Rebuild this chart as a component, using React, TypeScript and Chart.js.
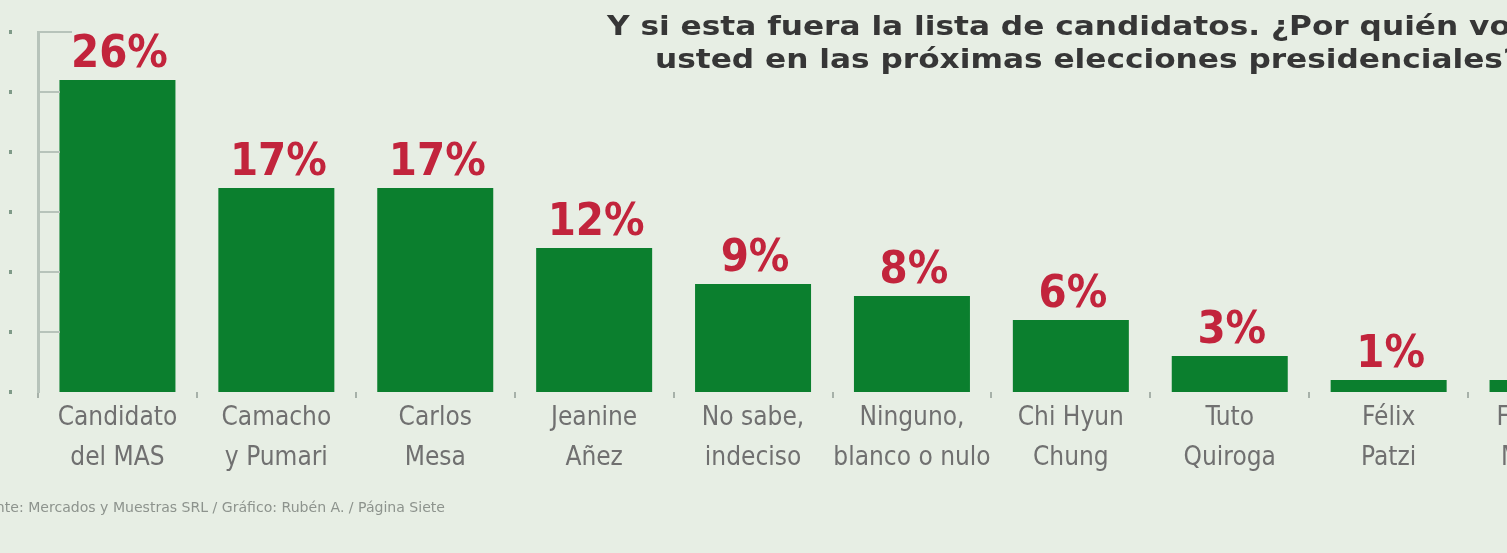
import React, { useEffect, useRef } from "react";
import { Chart, registerables } from "chart.js";

Chart.register(...registerables);

const categories: string[][] = [
  ["Candidato", "del MAS"],
  ["Camacho", "y Pumari"],
  ["Carlos", "Mesa"],
  ["Jeanine", "Añez"],
  ["No sabe,", "indeciso"],
  ["Ninguno,", "blanco o nulo"],
  ["Chi Hyun", "Chung"],
  ["Tuto", "Quiroga"],
  ["Félix", "Patzi"],
  ["Feliciano", "Mamani"],
];
const values: number[] = [26, 17, 17, 12, 9, 8, 6, 3, 1, 1];
const valueLabels: string[] = values.map((v) => `${v}%`);
const yTicks: number[] = [0, 5, 10, 15, 20, 25, 30];
const titleLines: string[] = [
  "Y si esta fuera la lista de candidatos. ¿Por quién votaría",
  "usted en las próximas elecciones presidenciales?",
];
const sourceText = "Fuente: Mercados y Muestras SRL / Gráfico: Rubén A. / Página Siete";

const BG = "#e7eee4";
const BAR = "#0b7f2e";
const RED = "#c2243c";

const decorPlugin = {
  id: "decor",
  beforeDraw(chart: any) {
    const { ctx, width, height } = chart;
    ctx.save();
    ctx.fillStyle = BG;
    ctx.fillRect(0, 0, width, height);
    ctx.restore();
  },
  afterDraw(chart: any) {
    const { ctx } = chart;
    const y = chart.scales.y;
    const left = chart.chartArea.left;
    ctx.save();
    yTicks.forEach((t) => {
      const py = y.getPixelForValue(t);
      if (t > 0) {
        ctx.strokeStyle = "#b7c3ba";
        ctx.lineWidth = 2;
        ctx.beginPath();
        ctx.moveTo(left, py);
        ctx.lineTo(left + (t === 30 ? 34 : 22), py);
        ctx.stroke();
      }
      ctx.fillStyle = "#7f9a88";
      ctx.fillRect(9, py - 2, 3, 4);
    });
    // value labels
    const meta = chart.getDatasetMeta(0);
    ctx.fillStyle = RED;
    ctx.font = "bold 45px 'DejaVu Sans Condensed', 'DejaVu Sans', sans-serif";
    ctx.textAlign = "center";
    ctx.textBaseline = "alphabetic";
    meta.data.forEach((bar: any, i: number) => {
      ctx.fillText(valueLabels[i], bar.x + 2, bar.y - 13);
    });
    // title (horizontally stretched heavy font)
    ctx.fillStyle = "#363636";
    ctx.font = "bold 26px 'DejaVu Sans', sans-serif";
    ctx.textAlign = "left";
    ctx.textBaseline = "middle";
    const sx = 1.2;
    ctx.save();
    ctx.scale(sx, 1);
    ctx.fillText(titleLines[0], 607 / sx, 28);
    ctx.fillText(titleLines[1], 655 / sx, 61);
    ctx.restore();
    // source
    ctx.fillStyle = "#8d938d";
    ctx.font = "14px 'DejaVu Sans', sans-serif";
    const vis = ctx.measureText("e: Mercados y Muestras SRL / Gráfico: Rubén A. / Página Siete").width;
    const fs = (14 * 435) / vis;
    ctx.font = `${fs.toFixed(2)}px 'DejaVu Sans', sans-serif`;
    ctx.textAlign = "right";
    ctx.fillText(sourceText, 445, 508);
    ctx.restore();
  },
};

export default function App() {
  const ref = useRef<HTMLCanvasElement | null>(null);
  useEffect(() => {
    if (!ref.current) return;
    const chart = new Chart(ref.current, {
      type: "bar",
      data: {
        labels: categories,
        datasets: [
          {
            data: values,
            backgroundColor: BAR,
            barPercentage: 0.73,
            categoryPercentage: 1,
          },
        ],
      },
      options: {
        animation: false,
        responsive: false,
        devicePixelRatio: 1,
        layout: { padding: { top: 32, left: 0, right: 0, bottom: 0 } },
        plugins: { legend: { display: false }, tooltip: { enabled: false } },
        scales: {
          x: {
            grid: {
              display: true,
              drawOnChartArea: false,
              drawTicks: true,
              tickLength: 6,
              offset: true,
              color: "#a7b1a9",
              lineWidth: 2,
            },
            border: { display: false },
            ticks: {
              color: "#707070",
              padding: 0,
              maxRotation: 0,
              autoSkip: false,
              font: {
                family: "'Liberation Sans Narrow', 'DejaVu Sans Condensed', Roboto, sans-serif",
                size: 26,
                lineHeight: 1.55,
              },
            },
            afterFit: (s: any) => {
              s.height = 161;
            },
          },
          y: {
            min: 0,
            max: 30,
            grid: { display: false },
            border: { display: true, color: "#b7c3ba", width: 3 },
            ticks: { display: false, stepSize: 5 },
            afterFit: (s: any) => {
              s.width = 38;
            },
          },
        },
      },
      plugins: [decorPlugin],
    });
    return () => chart.destroy();
  }, []);
  return (
    <div
      style={{
        position: "absolute",
        left: 0,
        top: 0,
        width: 1507,
        height: 553,
        overflow: "hidden",
        background: BG,
      }}
    >
      <canvas ref={ref} width={1627} height={553} style={{ display: "block" }} />
    </div>
  );
}
